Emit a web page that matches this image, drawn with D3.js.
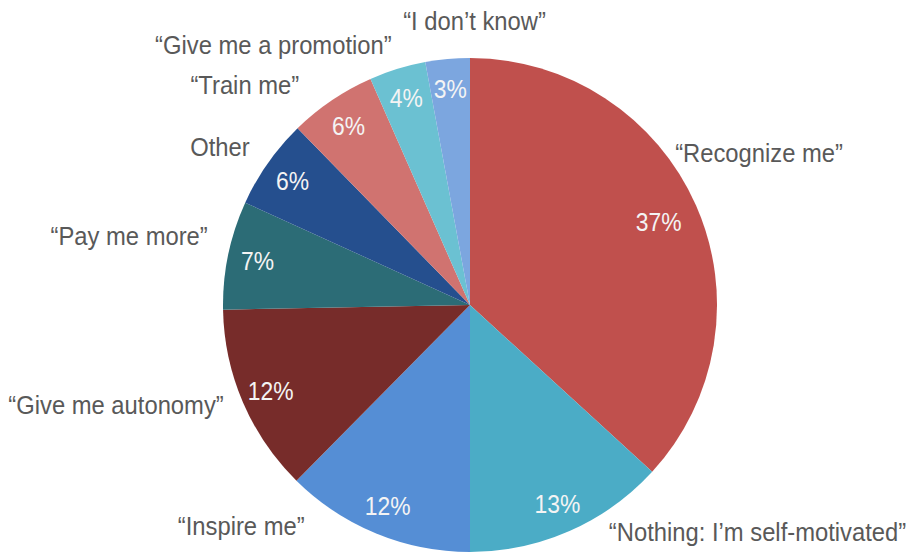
<!DOCTYPE html>
<html>
<head>
<meta charset="utf-8">
<script src="https://cdn.jsdelivr.net/npm/d3@7"></script>
<style>
  body { margin: 0; background: #fff; }
  text { font-family: "Liberation Sans", Arial, sans-serif; }
</style>
</head>
<body>
<script>
// survey answers, clockwise from 12 o'clock
const categories = ["\u201CRecognize me\u201D", "\u201CNothing: I\u2019m self-motivated\u201D", "\u201CInspire me\u201D",
    "\u201CGive me autonomy\u201D", "\u201CPay me more\u201D", "Other", "\u201CTrain me\u201D",
    "\u201CGive me a promotion\u201D", "\u201CI don\u2019t know\u201D"];
// shares; the labels show them rounded
const values = [36.8, 13.2, 12.4, 12.3, 7.1, 5.9, 5.7, 3.7, 2.9];
const colors = ["#C0504D", "#4BACC6", "#558ED5", "#772C2A", "#2C6C76", "#254F8E", "#D07370", "#6BC1D2", "#7CA6DF"];

// nudges of the category labels away from the slice edge (Excel placed them by hand)
const labelNudge = [[63, -53], [188, 1], [-135, -8], [-127, 2], [-99, -19], [-48, -16], [-87, -16], [-124, -24], [27, -38]];

const width = 907, height = 553;
const cx = 470, cy = 305, radius = 247;
const squeeze = 0.915; // text in the picture is horizontally condensed

let svg = d3.select("body").append("svg")
    .attr("width", width)
    .attr("height", height);

let g = svg.append("g").attr("transform", `translate(${cx},${cy})`);

let pie = d3.pie().sort(null).value(d => d.value);
let arcs = pie(values.map((v, i) => ({ name: categories[i], value: v, color: colors[i], i: i })));

let arc = d3.arc().innerRadius(0).outerRadius(radius);
let edgeArc = d3.arc().innerRadius(radius).outerRadius(radius);
let pctArc = d3.arc().innerRadius(217).outerRadius(217);

//slices
g.selectAll("path.slice")
    .data(arcs).enter().append("path")
    .attr("class", "slice")
    .attr("d", arc)
    .attr("fill", d => d.data.color);

//percent labels
g.selectAll("text.pct")
    .data(arcs).enter().append("text")
    .attr("class", "pct")
    .attr("transform", function(d) {
        let p = pctArc.centroid(d);
        if (d.data.i === 0) { p = p.map(v => v * 0.95); }
        return `translate(${p[0]},${p[1]}) scale(0.88,1)`;
    })
    .attr("text-anchor", "middle")
    .attr("dy", "0.36em")
    .attr("fill", "#F4F4F4")
    .style("font-size", "26px")
    .text(d => Math.round(d.data.value) + "%");

//category labels
g.selectAll("text.cat")
    .data(arcs).enter().append("text")
    .attr("class", "cat")
    .attr("transform", function(d) {
        let p = edgeArc.centroid(d);
        let n = labelNudge[d.data.i];
        return `translate(${p[0] + n[0]},${p[1] + n[1]}) scale(${squeeze},1)`;
    })
    .attr("text-anchor", "middle")
    .attr("dy", "0.36em")
    .attr("fill", "#595959")
    .style("font-size", "26px")
    .text(d => d.data.name);
</script>
</body>
</html>
